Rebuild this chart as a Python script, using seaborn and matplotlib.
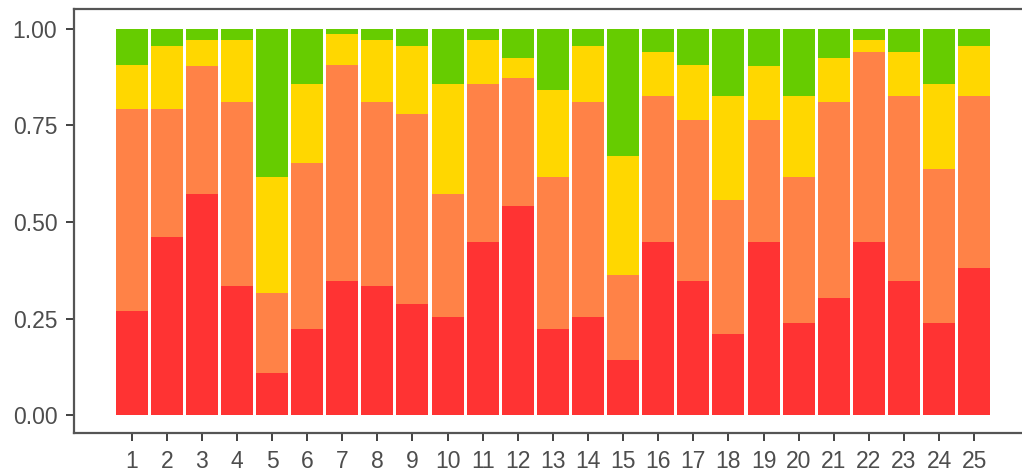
import matplotlib
matplotlib.use('Agg')
import matplotlib.pyplot as plt
import seaborn as sns
import numpy as np
import pandas as pd

# Share of each level per item
items = [str(i) for i in range(1, 26)]
red_share = [0.270, 0.462, 0.572, 0.334, 0.110, 0.224, 0.348, 0.333, 0.287, 0.255,
             0.447, 0.541, 0.224, 0.255, 0.142, 0.447, 0.348, 0.209, 0.447, 0.239,
             0.302, 0.447, 0.348, 0.239, 0.380]
orange_share = [0.524, 0.332, 0.332, 0.476, 0.207, 0.430, 0.560, 0.477, 0.492, 0.317,
                0.410, 0.331, 0.393, 0.555, 0.222, 0.379, 0.415, 0.347, 0.316, 0.378,
                0.508, 0.493, 0.478, 0.399, 0.446]
yellow_share = [0.114, 0.162, 0.067, 0.161, 0.300, 0.203, 0.079, 0.161, 0.177, 0.285,
                0.114, 0.052, 0.224, 0.146, 0.306, 0.114, 0.145, 0.270, 0.141, 0.209,
                0.114, 0.031, 0.114, 0.219, 0.130]
green_share = [0.092, 0.044, 0.029, 0.029, 0.383, 0.143, 0.013, 0.029, 0.044, 0.143,
               0.029, 0.076, 0.159, 0.044, 0.330, 0.060, 0.092, 0.174, 0.096, 0.174,
               0.076, 0.029, 0.060, 0.143, 0.044]

levels = ['red', 'orange', 'yellow', 'green']
colors = {'red': '#FF3333', 'orange': '#FF8247', 'yellow': '#FFD700', 'green': '#66CC00'}

shares = np.array([red_share, orange_share, yellow_share, green_share])
shares = shares / shares.sum(axis=0)
cum = np.cumsum(shares, axis=0)
df = pd.DataFrame({'item': items})
for lvl, c in zip(levels, cum):
    df[lvl] = c

sns.set_style('ticks')
plt.rcParams['font.family'] = ['Liberation Sans', 'DejaVu Sans']

fig = plt.figure(figsize=(10.22, 4.75), dpi=100)
ax = fig.add_axes([74 / 1022, 42 / 475, 1 - 74 / 1022, 424 / 475])

# stacked bars: draw the cumulative tops from the highest layer down
for lvl in levels[::-1]:
    sns.barplot(data=df, x='item', y=lvl, order=items, color=colors[lvl],
                width=0.91, saturation=1, linewidth=0, ax=ax)

ax.set_xlim(-1.64, 25.36)
ax.set_ylim(-0.0466, 1.0518)
ax.set_yticks([0, 0.25, 0.5, 0.75, 1.0])
ax.set_yticklabels(['0.00', '0.25', '0.50', '0.75', '1.00'])
ax.set_xlabel('')
ax.set_ylabel('')

for side in ['left', 'bottom', 'top']:
    ax.spines[side].set_color('#555555')
    ax.spines[side].set_linewidth(1.6)
ax.spines['right'].set_visible(False)
ax.tick_params(axis='both', length=6, width=1.3, color='#333333',
               labelcolor='#4D4D4D', labelsize=16.5, pad=6)

fig.savefig('out.png', dpi=100)
plt.close(fig)
